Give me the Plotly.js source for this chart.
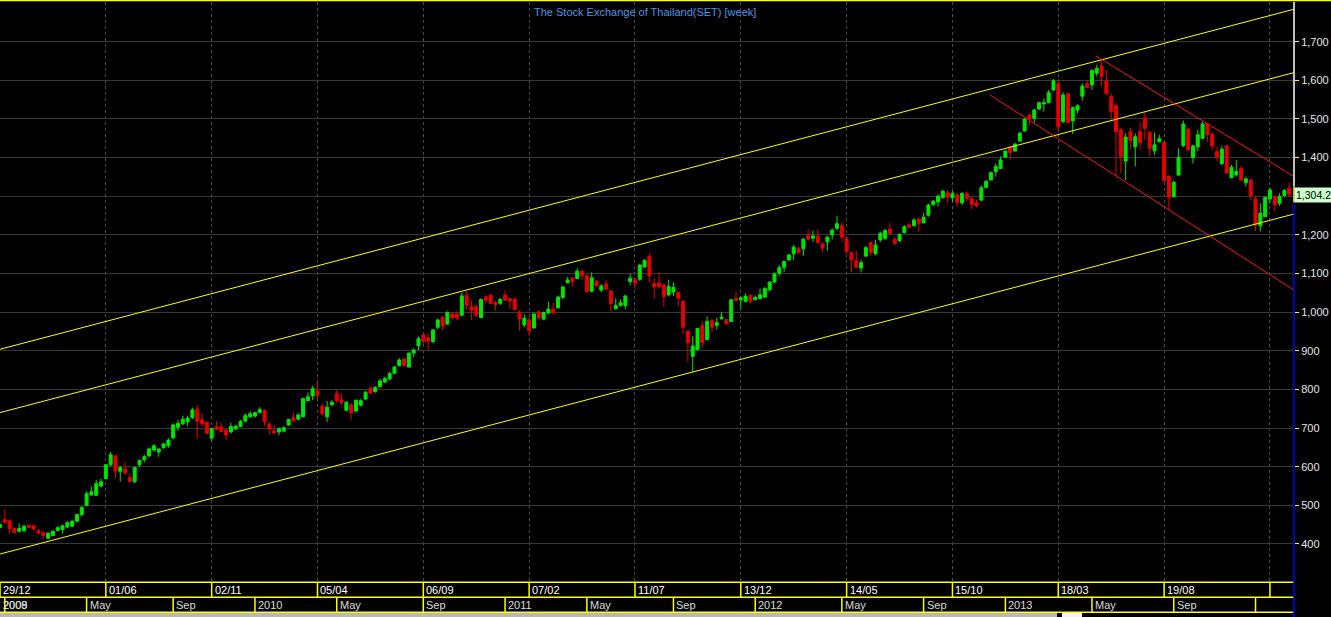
<!DOCTYPE html>
<html><head><meta charset="utf-8">
<script src="https://cdn.plot.ly/plotly-3.0.1.min.js"></script>
<style>html,body{margin:0;padding:0;background:#000;overflow:hidden}#chart{width:1331px;height:617px}</style>
</head><body><div id="chart"></div>
<script>
const chartTitle = 'The Stock Exchange of Thailand(SET) [week]';
const firstWeek = '2008-12-29';
const viewEnd = '2014-02-24';

const openValues = [
443,463,460,440,433,435,448,447,434,429,
415,422,435,437,444,446,459,476,500,527,
526,550,569,605,628,588,594,572,561,605,
618,628,643,638,649,654,674,702,711,716,
727,749,721,715,674,703,703,695,690,698,
704,718,729,731,740,745,709,693,690,692,
708,727,723,729,771,783,796,757,729,761,
789,773,746,760,744,759,775,802,794,807,
819,827,842,862,879,858,894,913,941,934,
924,961,986,969,995,995,992,1044,1014,1014,
986,1040,1044,1025,1023,1044,1035,1034,1000,967,
980,959,1001,982,998,1008,1011,1038,1076,1088,
1087,1106,1094,1054,1080,1057,1073,1055,1009,1018,
1017,1079,1084,1085,1117,1145,1074,1076,1070,1045,
1052,1051,1028,951,886,903,965,929,978,966,
983,981,976,1036,1032,1028,1043,1032,1035,1039,
1058,1078,1101,1116,1135,1151,1164,1164,1198,1191,
1197,1176,1182,1200,1217,1224,1191,1154,1133,1114,
1145,1180,1151,1187,1191,1215,1188,1185,1206,1226,
1224,1241,1231,1251,1279,1285,1296,1309,1296,1303,
1283,1307,1294,1283,1290,1323,1342,1364,1372,1401,
1427,1417,1443,1469,1510,1502,1526,1539,1542,1575,
1591,1493,1565,1495,1523,1559,1591,1588,1618,1637,
1598,1558,1534,1472,1391,1467,1428,1467,1502,1466,
1418,1441,1439,1351,1299,1355,1431,1474,1400,1428,
1450,1487,1461,1416,1384,1430,1348,1355,1372,1335,
1342,1293,1224,1247,1293,1299,1282,1302,1321];

const highValues = [
452,489,463,441,453,450,452,449,439,433,
430,435,446,450,459,463,478,497,536,549,
566,569,606,638,631,602,612,583,600,619,
630,650,659,647,661,674,712,721,732,732,
753,760,738,718,701,718,713,698,714,708,
721,737,744,742,754,749,717,708,702,704,
724,740,738,778,792,809,822,764,770,772,
799,789,769,765,774,775,795,809,808,827,
833,845,861,881,881,895,906,937,945,945,
956,982,990,1002,999,1003,1050,1054,1031,1020,
1035,1044,1047,1029,1037,1057,1038,1037,1004,995,
988,999,1004,1001,1027,1024,1042,1068,1091,1091,
1114,1110,1097,1103,1083,1072,1083,1059,1036,1033,
1044,1100,1088,1124,1137,1152,1088,1103,1074,1084,
1077,1053,1032,952,938,959,976,989,983,985,
1001,982,1034,1053,1041,1049,1045,1043,1061,1065,
1079,1103,1122,1133,1150,1174,1170,1191,1214,1211,
1214,1182,1198,1217,1249,1234,1195,1157,1159,1135,
1171,1184,1187,1208,1215,1231,1195,1204,1225,1231,
1244,1244,1257,1281,1291,1305,1316,1316,1314,1309,
1311,1313,1297,1292,1328,1342,1364,1385,1403,1418,
1430,1437,1467,1502,1515,1526,1545,1553,1575,1603,
1603,1569,1566,1532,1538,1592,1601,1629,1640,1654,
1627,1566,1540,1476,1463,1478,1463,1493,1519,1467,
1465,1459,1441,1355,1340,1424,1496,1476,1434,1472,
1493,1489,1465,1428,1430,1433,1381,1394,1378,1351,
1344,1299,1282,1299,1322,1303,1308,1318,1335];

const lowValues = [
441,454,427,428,431,430,441,435,426,413,
413,420,434,427,441,444,456,471,498,525,
524,547,568,600,569,562,579,562,558,600,
611,626,639,626,647,649,673,693,708,706,
723,672,705,685,667,695,689,669,686,695,
702,715,727,727,738,706,683,686,681,691,
706,717,721,728,768,772,775,731,716,756,
765,759,743,722,742,756,773,788,792,805,
816,825,840,859,859,857,883,902,915,902,
919,956,954,968,980,980,990,1005,980,986,
984,1023,1021,1004,1018,1029,1008,1004,952,961,
938,958,978,980,995,995,1009,1033,1074,1066,
1085,1083,1050,1053,1066,1052,1057,1001,1007,1014,
1007,1070,1060,1081,1115,1078,1035,1064,1014,1041,
1042,1015,942,871,845,902,908,927,948,955,
981,967,975,1028,1009,1025,1022,1031,1034,1037,
1055,1075,1094,1104,1133,1135,1151,1146,1185,1182,
1178,1154,1159,1188,1212,1182,1152,1103,1116,1103,
1144,1146,1147,1182,1187,1200,1174,1182,1204,1217,
1221,1208,1230,1247,1274,1273,1294,1283,1285,1273,
1277,1288,1266,1271,1287,1321,1341,1351,1371,1400,
1394,1416,1441,1467,1484,1489,1523,1519,1541,1573,
1465,1489,1489,1461,1515,1547,1579,1575,1610,1585,
1562,1497,1353,1360,1341,1420,1377,1420,1446,1404,
1407,1439,1338,1265,1297,1353,1427,1416,1385,1416,
1447,1441,1420,1390,1381,1358,1347,1351,1340,1325,
1290,1210,1209,1246,1282,1260,1275,1297,1299];

const closeValues = [
450,456,439,430,440,446,443,439,428,422,
428,433,442,447,455,459,476,495,530,535,
556,561,605,631,589,598,584,562,598,616,
626,646,654,646,659,669,708,712,723,726,
747,718,711,686,699,696,691,682,704,705,
717,732,737,740,748,717,698,687,698,701,
722,718,734,776,781,802,785,737,754,767,
771,766,767,740,772,771,793,790,805,822,
828,841,858,876,862,894,902,931,925,925,
954,980,964,999,986,985,1042,1018,1005,992,
1033,1031,1023,1020,1033,1031,1029,1007,982,984,
952,995,986,999,1008,998,1039,1065,1083,1080,
1106,1094,1053,1089,1068,1068,1060,1022,1017,1024,
1042,1088,1075,1122,1134,1094,1065,1066,1040,1066,
1064,1036,961,921,912,958,921,976,961,973,
987,970,1032,1030,1037,1041,1028,1038,1045,1061,
1078,1099,1115,1131,1148,1168,1155,1189,1189,1197,
1180,1166,1194,1212,1229,1194,1157,1135,1116,1128,
1167,1154,1174,1204,1211,1204,1178,1201,1221,1220,
1238,1230,1245,1277,1287,1300,1313,1298,1307,1283,
1307,1294,1279,1276,1322,1338,1361,1377,1394,1417,
1413,1435,1463,1499,1500,1523,1542,1542,1568,1599,
1480,1562,1491,1529,1534,1585,1581,1625,1631,1610,
1566,1519,1467,1403,1453,1444,1454,1439,1476,1424,
1433,1449,1341,1297,1336,1401,1487,1420,1430,1459,
1487,1459,1430,1401,1422,1360,1375,1364,1342,1345,
1302,1226,1256,1297,1316,1278,1299,1315,1304.2];

const lastPrice = 1304.2;
const yTicks = [400,500,600,700,800,900,1000,1100,1200,1300,1400,1500,1600,1700];

const topTickDates = ['2008-12-29','2009-06-01','2009-11-02','2010-04-05','2010-09-06','2011-02-07','2011-07-11','2011-12-12','2012-05-14','2012-10-15','2013-03-18','2013-08-19','2014-01-20'];
const topTickLabels = ['29/12','01/06','02/11','05/04','06/09','07/02','11/07','13/12','14/05','15/10','18/03','19/08',''];
const monthDates = ['2008-12-29','2009-01-05','2009-05-04','2009-09-07','2010-01-04','2010-05-03','2010-09-06','2011-01-03','2011-05-02','2011-09-05','2012-01-02','2012-05-07','2012-09-03','2012-12-31','2013-05-06','2013-09-02','2013-12-30'];
const monthLabels = ['2008','2009','May','Sep','2010','May','Sep','2011','May','Sep','2012','May','Sep','2013','May','Sep',''];

// channel lines (date, value) endpoints
const upChannelX = [firstWeek, viewEnd];
const upTopLine = [904, 1784];
const upMidLine = [740, 1620];
const upLowLine = [374, 1254];
const downUpperX = ['2013-05-11 22:00', viewEnd];
const downUpperY = [1663, 1351];
const downLowerX = ['2012-12-08 14:00', viewEnd];
const downLowerY = [1562, 1057];

const FONT = 'Liberation Sans, Arial, sans-serif';
const YELLOW = '#ffff00';
const GREEN = '#00e600';
const RED = '#e60000';

const t0 = Date.parse(firstWeek + 'T00:00:00Z');
const weeks = openValues.map((_, i) => new Date(t0 + i * 7 * 86400000).toISOString().slice(0, 10));

const trace = {
  type: 'candlestick', x: weeks,
  open: openValues, high: highValues, low: lowValues, close: closeValues,
  increasing: {line: {color: GREEN, width: 1}, fillcolor: GREEN},
  decreasing: {line: {color: RED, width: 1}, fillcolor: RED},
  whiskerwidth: 0, hoverinfo: 'skip', showlegend: false
};

const PX = 1 / 579;
const shapes = [];
const annotations = [];

function seg(x0, y0, x1, y1, color) {
  shapes.push({type: 'line', xref: 'x', yref: 'y', x0, y0, x1, y1, line: {color, width: 1}});
}
seg(upChannelX[0], upTopLine[0], upChannelX[1], upTopLine[1], YELLOW);
seg(upChannelX[0], upMidLine[0], upChannelX[1], upMidLine[1], YELLOW);
seg(upChannelX[0], upLowLine[0], upChannelX[1], upLowLine[1], YELLOW);
seg(downUpperX[0], downUpperY[0], downUpperX[1], downUpperY[1], '#ff1010');
seg(downLowerX[0], downLowerY[0], downLowerX[1], downLowerY[1], '#ff1010');

// top frame line
shapes.push({type: 'line', xref: 'paper', yref: 'paper', x0: 0, x1: 1331 / 1294, y0: 1 + 1.5 * PX, y1: 1 + 1.5 * PX, line: {color: YELLOW, width: 1.5}});

// date bands
const yB1 = -1.3 * PX, yB2 = -16.3 * PX, yB3 = -31.3 * PX;
[yB1, yB2, yB3].forEach(y => shapes.push({type: 'line', xref: 'paper', yref: 'paper', x0: 0, x1: 1, y0: y, y1: y, line: {color: YELLOW, width: 1.5}}));
topTickDates.forEach((d, i) => {
  shapes.push({type: 'line', xref: 'x', yref: 'paper', x0: d, x1: d, y0: yB1, y1: yB2, line: {color: YELLOW, width: 1.5}});
  if (topTickLabels[i]) annotations.push({xref: 'x', yref: 'paper', x: d, y: 0, xanchor: 'left', yanchor: 'middle', xshift: 1, yshift: -8.6, showarrow: false, text: topTickLabels[i], font: {family: FONT, size: 11, color: '#ffffff'}});
});
monthDates.forEach((d, i) => {
  if (i > 0) shapes.push({type: 'line', xref: 'x', yref: 'paper', x0: d, x1: d, y0: yB2, y1: yB3, line: {color: YELLOW, width: 1.5}});
  if (monthLabels[i]) annotations.push({xref: 'x', yref: 'paper', x: d, y: 0, xanchor: 'left', yanchor: 'middle', xshift: i === 1 ? -4 : 1, yshift: -24.3, showarrow: false, text: monthLabels[i], font: {family: FONT, size: 11, color: '#dcdcdc'}});
});

// right axis line: white above price label, yellow at label, blue below
const half = 20.7;
shapes.push({type: 'line', xref: 'paper', yref: 'y', x0: 1, x1: 1, y0: lastPrice + half, y1: 2000, line: {color: '#ffffff', width: 1.5}});
shapes.push({type: 'line', xref: 'paper', yref: 'y', x0: 1, x1: 1, y0: lastPrice - half, y1: lastPrice + half, line: {color: YELLOW, width: 1.5}});
shapes.push({type: 'line', xref: 'paper', yref: 'y', x0: 1, x1: 1, y0: 0, y1: lastPrice - half, line: {color: '#0000ff', width: 1.5}});
shapes.push({type: 'line', xref: 'paper', yref: 'paper', x0: 1, x1: 1, y0: 0, y1: -36 * PX, line: {color: '#0000ff', width: 1.5}});

// scrollbar strip
shapes.push({type: 'rect', xref: 'paper', yref: 'paper', x0: 0, x1: 1057 / 1294, y0: -32 * PX, y1: -36 * PX, line: {width: 0}, fillcolor: '#b8b8b8'});
shapes.push({type: 'rect', xref: 'paper', yref: 'paper', x0: 1062 / 1294, x1: 1082 / 1294, y0: -32 * PX, y1: -36 * PX, line: {width: 0}, fillcolor: '#f4f4f4'});

// title
annotations.push({xref: 'paper', yref: 'paper', x: 0.4985, y: 1, yanchor: 'top', xanchor: 'center', yshift: -2, showarrow: false, text: chartTitle, font: {family: FONT, size: 11, color: '#4f96e8'}});

// last price label
annotations.push({xref: 'paper', yref: 'y', x: 1, y: lastPrice, xanchor: 'left', yanchor: 'middle', xshift: 0, showarrow: false, text: lastPrice.toLocaleString('en-US', {minimumFractionDigits: 1}), bgcolor: '#ccffcc', borderpad: 1, font: {family: FONT, size: 10.5, color: '#000000'}});

const layout = {
  width: 1331, height: 617,
  margin: {l: 0, r: 37, t: 2, b: 36, pad: 0},
  paper_bgcolor: '#000000', plot_bgcolor: '#000000',
  showlegend: false, hovermode: false, dragmode: false,
  boxgap: 0.38, boxgroupgap: 0,
  xaxis: {type: 'date', range: [firstWeek, viewEnd], rangeslider: {visible: false},
    tickmode: 'array', tickvals: topTickDates, showticklabels: false, ticks: '',
    showgrid: true, gridcolor: '#4a4a4a', griddash: 'dot', gridwidth: 1,
    zeroline: false, showline: false, fixedrange: true},
  yaxis: {side: 'right', range: [304.2, 1802.7], tickmode: 'array', tickvals: yTicks, tickformat: ',',
    ticks: 'outside', ticklen: 4, tickwidth: 1, tickcolor: YELLOW,
    tickfont: {family: FONT, size: 11, color: '#e6e6e6'},
    showgrid: true, gridcolor: '#383838', gridwidth: 1, zeroline: false, showline: false, fixedrange: true},
  shapes, annotations
};

Plotly.newPlot('chart', [trace], layout, {displayModeBar: false, staticPlot: true});
</script></body></html>
